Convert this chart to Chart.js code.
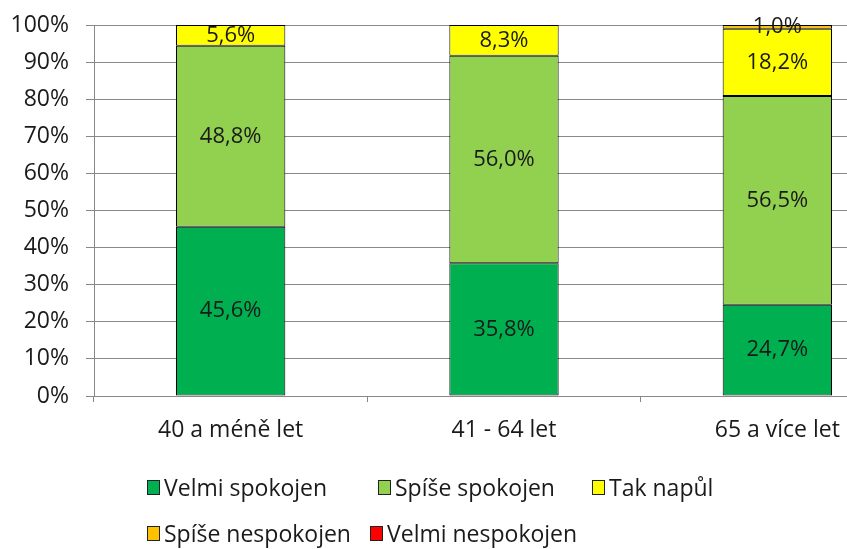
<!DOCTYPE html>
<html>
<head>
<meta charset="utf-8">
<script src="https://cdn.jsdelivr.net/npm/chart.js@4.4.1/dist/chart.umd.min.js"></script>
<style>
  body { margin: 0; overflow: hidden; background: #fff; font-family: "Open Sans", sans-serif; }
  #wrap { position: absolute; left: 0; top: 0; width: 920px; height: 549px; }
  .leg { position: absolute; display: flex; align-items: center; font-size: 23px; color: #1a1a1a; white-space: nowrap; }
  .leg span.box { display: inline-block; width: 11px; height: 13px; border: 1px solid #222; margin-right: 4px; }
</style>
</head>
<body>
<div id="wrap">
  <canvas id="chart" width="920" height="549"></canvas>
  <div id="legend"></div>
</div>
<script>
const categories = ["40 a méně let", "41 - 64 let", "65 a více let"];
const seriesNames = ["Velmi spokojen", "Spíše spokojen", "Tak napůl", "Spíše nespokojen", "Velmi nespokojen"];
const velmiSpokojen = [45.6, 35.8, 24.7];
const spiseSpokojen = [48.8, 56.0, 56.5];
const takNapul = [5.6, 8.3, 18.2];
const spiseNespokojen = [0, 0, 1.0];
const velmiNespokojen = [0, 0, 0];
const colors = ["#00B050", "#92D050", "#FFFF00", "#FFC000", "#FF0000"];
const yTicks = [0, 10, 20, 30, 40, 50, 60, 70, 80, 90, 100];

const seriesValues = [velmiSpokojen, spiseSpokojen, takNapul, spiseNespokojen, velmiNespokojen];
const FONT = "Open Sans";

// 100% stacked: scale each column to its total, labels keep the raw numbers
const totals = categories.map((c, j) => seriesValues.reduce((s, arr) => s + arr[j], 0));

// value labels in the middle of each segment
const segmentLabels = {
  id: "segmentLabels",
  afterDatasetsDraw(chart) {
    const ctx = chart.ctx;
    ctx.save();
    ctx.font = "22px " + FONT;
    ctx.fillStyle = "#1a1a1a";
    ctx.textAlign = "center";
    ctx.textBaseline = "middle";
    chart.data.datasets.forEach((ds, i) => {
      chart.getDatasetMeta(i).data.forEach((bar, j) => {
        const v = seriesValues[i][j];
        if (!v) return;
        const txt = v.toFixed(1).replace(".", ",") + "%";
        ctx.fillText(txt, bar.x, (bar.y + bar.base) / 2);
      });
    });
    ctx.restore();
  }
};

new Chart(document.getElementById("chart"), {
  type: "bar",
  data: {
    labels: categories,
    datasets: seriesNames.map((name, i) => ({
      label: name,
      data: seriesValues[i].map((v, j) => v / totals[j] * 100),
      backgroundColor: colors[i],
      borderColor: "#000",
      borderWidth: 1,
      borderSkipped: false,
      barPercentage: 0.4,
      categoryPercentage: 1
    }))
  },
  options: {
    responsive: false,
    animation: false,
    layout: { padding: { top: 25, right: 6, bottom: 103, left: 0 } },
    plugins: { legend: { display: false }, tooltip: { enabled: false } },
    scales: {
      x: {
        stacked: true,
        afterFit: s => { s.height = 50; },
        grid: { drawOnChartArea: false, tickLength: 6, color: "#888" },
        border: { color: "#888" },
        ticks: { padding: 15, color: "#1a1a1a", font: { family: FONT, size: 23 } }
      },
      y: {
        stacked: true,
        min: 0,
        max: 100,
        afterFit: s => { s.width = 94; s.paddingTop = 5; s.paddingBottom = 5; },
        afterBuildTicks: s => { s.ticks = yTicks.map(v => ({ value: v })); },
        grid: { color: "#888", tickLength: 8 },
        border: { color: "#888" },
        ticks: {
          padding: 17,
          color: "#1a1a1a",
          font: { family: FONT, size: 23 },
          callback: v => v + "%"
        }
      }
    }
  },
  plugins: [segmentLabels]
});

// legend, two rows like the original
const legendPos = [[147, 487], [378, 487], [592, 487], [147, 533], [370, 533]];
const legendEl = document.getElementById("legend");
seriesNames.forEach((name, i) => {
  const d = document.createElement("div");
  d.className = "leg";
  d.style.left = legendPos[i][0] + "px";
  d.style.top = (legendPos[i][1] - 16) + "px";
  d.innerHTML = `<span class="box" style="background:${colors[i]}"></span>${name}`;
  legendEl.appendChild(d);
});
</script>
</body>
</html>
